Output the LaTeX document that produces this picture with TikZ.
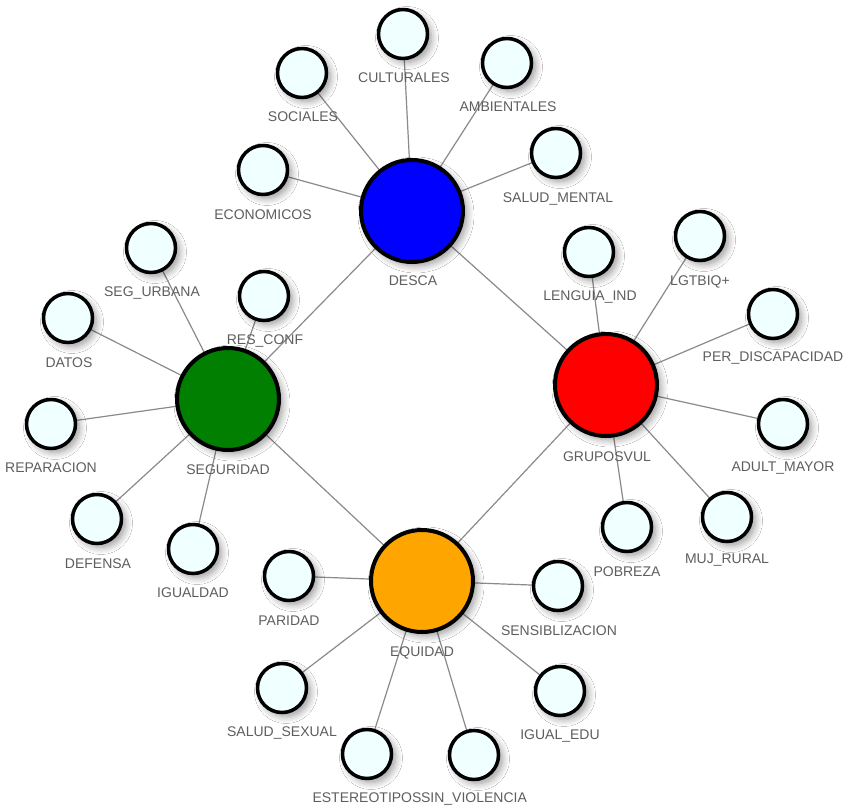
\documentclass[tikz,border=0pt]{standalone}
\usepackage{fontspec}
\setmainfont{Liberation Sans}
\usetikzlibrary{backgrounds,shadows.blur}
\definecolor{azurefill}{HTML}{F0FFFF}
\definecolor{labelgray}{HTML}{5E5E5E}
\definecolor{edgegray}{HTML}{8A8A8A}
\definecolor{hubblue}{HTML}{0000FF}
\definecolor{hubred}{HTML}{FF0000}
\definecolor{hubgreen}{HTML}{007F00}
\definecolor{huborange}{HTML}{FFA500}
\begin{document}
\begin{tikzpicture}[x=1pt,y=-1pt,
  shade/.style={blur shadow={shadow xshift=4pt, shadow yshift=-4pt, shadow blur radius=7pt, shadow blur steps=8, shadow opacity=40}},
  hub/.style={circle, draw=black, line width=4pt, minimum size=102pt, inner sep=0pt, shade},
  leaf/.style={circle, draw=black, line width=3.5pt, fill=azurefill, minimum size=49pt, inner sep=0pt, shade},
  lbl/.style={text=labelgray, font=\fontsize{14}{16}\selectfont, inner sep=0pt},
  edge/.style={draw=edgegray, line width=1.2pt}]
\useasboundingbox (0,0) rectangle (851,810);
% hubs
\node[hub, fill=hubblue] (desca) at (412,211) {};
\node[hub, fill=hubred] (grupos) at (606,385) {};
\node[hub, fill=hubgreen] (seg) at (228,399) {};
\node[hub, fill=huborange] (equidad) at (422,581) {};
% leaves
\node[leaf] (sociales) at (302,73) {};
\node[leaf] (culturales) at (403,34) {};
\node[leaf] (ambientales) at (507,63) {};
\node[leaf] (saludmental) at (556,153) {};
\node[leaf] (economicos) at (263,170) {};
\node[leaf] (lenguia) at (589,252) {};
\node[leaf] (lgtbiq) at (700,236) {};
\node[leaf] (perdisc) at (773,314) {};
\node[leaf] (adult) at (783,424) {};
\node[leaf] (mujrural) at (727,517) {};
\node[leaf] (pobreza) at (627,527) {};
\node[leaf] (segurbana) at (151,248) {};
\node[leaf] (resconf) at (264,296) {};
\node[leaf] (datos) at (68,318) {};
\node[leaf] (reparacion) at (51,424) {};
\node[leaf] (defensa) at (97,519) {};
\node[leaf] (igualdad) at (193,549) {};
\node[leaf] (paridad) at (289,576) {};
\node[leaf] (sensib) at (558,586) {};
\node[leaf] (saludsexual) at (282,688) {};
\node[leaf] (estereotipos) at (367,754) {};
\node[leaf] (sinviolencia) at (474,755) {};
\node[leaf] (igualedu) at (560,691) {};
% labels
\node[lbl] (ldesca) at (413,281) {DESCA};
\node[lbl] (lgrupos) at (607,457) {GRUPOSVUL};
\node[lbl] (lseg) at (228,470) {SEGURIDAD};
\node[lbl] (lequidad) at (422,653) {EQUIDAD};
\node[lbl] (lsociales) at (303,117) {SOCIALES};
\node[lbl] (lculturales) at (404,78) {CULTURALES};
\node[lbl] (lambientales) at (508,107) {AMBIENTALES};
\node[lbl] (lsaludmental) at (558,199) {SALUD\_MENTAL};
\node[lbl] (leconomicos) at (263,215) {ECONOMICOS};
\node[lbl] (llenguia) at (590,297) {LENGUIA\_IND};
\node[lbl] (llgtbiq) at (700,282) {LGTBIQ+};
\node[lbl] (lperdisc) at (773,358) {PER\_DISCAPACIDAD};
\node[lbl] (ladult) at (783,468) {ADULT\_MAYOR};
\node[lbl] (lmujrural) at (727,560) {MUJ\_RURAL};
\node[lbl] (lpobreza) at (627,572) {POBREZA};
\node[lbl] (lsegurbana) at (152,293) {SEG\_URBANA};
\node[lbl] (lresconf) at (265,341) {RES\_CONF};
\node[lbl] (ldatos) at (69,363) {DATOS};
\node[lbl] (lreparacion) at (51,468) {REPARACION};
\node[lbl] (ldefensa) at (98,564) {DEFENSA};
\node[lbl] (ligualdad) at (193,593) {IGUALDAD};
\node[lbl] (lparidad) at (289,621) {PARIDAD};
\node[lbl] (lsensib) at (559,631) {SENSIBLIZACION};
\node[lbl] (lsaludsexual) at (282,733) {SALUD\_SEXUAL};
\node[lbl] (lestereotipos) at (367,798) {ESTEREOTIPOS};
\node[lbl] (lsinviolencia) at (474,799) {SIN\_VIOLENCIA};
\node[lbl] (ligualedu) at (560,736) {IGUAL\_EDU};
% edges
\begin{scope}[on background layer]
\fill[white] (0,0) rectangle (851,810);
\foreach \a/\b in {desca/seg, desca/grupos, seg/equidad, grupos/equidad,
  desca/sociales, desca/culturales, desca/ambientales, desca/saludmental, desca/economicos,
  grupos/lenguia, grupos/lgtbiq, grupos/perdisc, grupos/adult, grupos/mujrural, grupos/pobreza,
  seg/segurbana, seg/resconf, seg/datos, seg/reparacion, seg/defensa, seg/igualdad,
  equidad/paridad, equidad/sensib, equidad/saludsexual, equidad/estereotipos, equidad/sinviolencia, equidad/igualedu}
  \draw[edge] (\a.center) -- (\b.center);
\end{scope}
\end{tikzpicture}
\end{document}
